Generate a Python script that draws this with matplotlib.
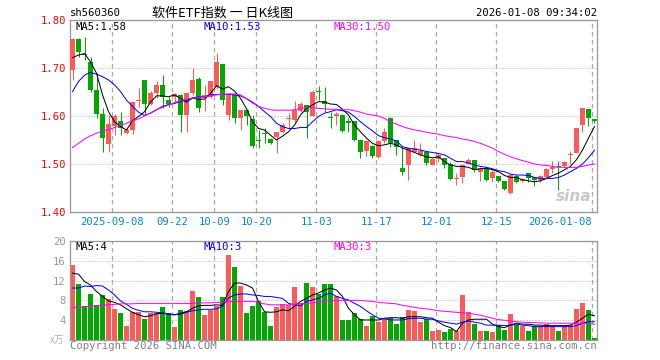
import matplotlib
matplotlib.use("Agg")
import matplotlib.pyplot as plt
import numpy as np

# ---------------- data ----------------
dates = ["2025-09-08", "09-22", "10-09", "10-20", "11-03", "11-17", "12-01", "12-15", "2026-01-08"]
date_idx = [7, 17, 24, 31, 41, 51, 61, 71, 87]

opens = [1.696, 1.760, 1.730, 1.713, 1.654, 1.604, 1.542, 1.579, 1.590, 1.565,
         1.571, 1.631, 1.675, 1.626, 1.647, 1.665, 1.633, 1.640, 1.644, 1.602,
         1.647, 1.677, 1.637, 1.640, 1.661, 1.708, 1.602, 1.644, 1.595, 1.613,
         1.594, 1.548, 1.565, 1.552, 1.557, 1.566, 1.593, 1.592, 1.610, 1.622,
         1.600, 1.653, 1.631, 1.597, 1.601, 1.602, 1.590, 1.590, 1.550, 1.527,
         1.538, 1.515, 1.547, 1.595, 1.550, 1.492, 1.497, 1.526, 1.519, 1.524,
         1.498, 1.510, 1.512, 1.501, 1.4695, 1.473, 1.501, 1.508, 1.484, 1.492,
         1.470, 1.476, 1.465, 1.439, 1.474, 1.4646, 1.481, 1.4736, 1.466, 1.4736,
         1.4896, 1.4951, 1.4958, 1.518, 1.522, 1.581, 1.614, 1.593]
highs = [1.762, 1.762, 1.765, 1.722, 1.689, 1.616, 1.602, 1.604, 1.608, 1.574,
         1.631, 1.658, 1.675, 1.652, 1.672, 1.685, 1.640, 1.648, 1.645, 1.647,
         1.699, 1.682, 1.665, 1.673, 1.731, 1.708, 1.644, 1.647, 1.613, 1.614,
         1.602, 1.571, 1.574, 1.555, 1.567, 1.585, 1.606, 1.631, 1.629, 1.623,
         1.654, 1.663, 1.661, 1.608, 1.608, 1.604, 1.595, 1.590, 1.550, 1.550,
         1.540, 1.550, 1.574, 1.597, 1.550, 1.536, 1.534, 1.550, 1.543, 1.524,
         1.513, 1.522, 1.513, 1.505, 1.481, 1.499, 1.513, 1.508, 1.494, 1.4965,
         1.4875, 1.476, 1.465, 1.480, 1.477, 1.4715, 1.482, 1.4736, 1.477, 1.4924,
         1.507, 1.507, 1.5063, 1.527, 1.576, 1.617, 1.614, 1.593]
lows = [1.675, 1.722, 1.717, 1.649, 1.595, 1.526, 1.526, 1.560, 1.560, 1.562,
        1.562, 1.619, 1.602, 1.622, 1.638, 1.616, 1.619, 1.630, 1.566, 1.566,
        1.644, 1.609, 1.610, 1.637, 1.656, 1.623, 1.592, 1.585, 1.571, 1.581,
        1.534, 1.534, 1.543, 1.541, 1.522, 1.564, 1.574, 1.588, 1.609, 1.555,
        1.599, 1.633, 1.609, 1.576, 1.581, 1.566, 1.566, 1.547, 1.512, 1.517,
        1.513, 1.513, 1.543, 1.536, 1.519, 1.477, 1.467, 1.526, 1.517, 1.498,
        1.497, 1.505, 1.492, 1.467, 1.456, 1.460, 1.499, 1.484, 1.465, 1.465,
        1.462, 1.463, 1.446, 1.437, 1.460, 1.463, 1.463, 1.455, 1.463, 1.470,
        1.4806, 1.4458, 1.4944, 1.501, 1.522, 1.566, 1.580, 1.585]
closes = [1.760, 1.734, 1.727, 1.654, 1.604, 1.555, 1.584, 1.599, 1.574, 1.571,
          1.629, 1.633, 1.626, 1.647, 1.665, 1.640, 1.624, 1.645, 1.602, 1.647,
          1.675, 1.617, 1.644, 1.672, 1.713, 1.633, 1.644, 1.595, 1.613, 1.599,
          1.538, 1.547, 1.563, 1.544, 1.566, 1.581, 1.594, 1.613, 1.626, 1.609,
          1.651, 1.651, 1.624, 1.5965, 1.605, 1.569, 1.585, 1.550, 1.526, 1.548,
          1.517, 1.547, 1.567, 1.543, 1.536, 1.484, 1.533, 1.533, 1.527, 1.503,
          1.510, 1.519, 1.498, 1.469, 1.4705, 1.498, 1.508, 1.4875, 1.491, 1.467,
          1.484, 1.465, 1.447, 1.477, 1.462, 1.469, 1.470, 1.4667, 1.475, 1.4896,
          1.4944, 1.4944, 1.5049, 1.519, 1.574, 1.616, 1.595, 1.590]

ma5 = [1.7215, 1.727, 1.730, 1.713, 1.689, 1.644, 1.609, 1.588, 1.578, 1.571,
       1.590, 1.599, 1.609, 1.629, 1.642, 1.642, 1.640, 1.644, 1.637, 1.629,
       1.637, 1.635, 1.635, 1.647, 1.663, 1.656, 1.661, 1.652, 1.637, 1.615,
       1.588, 1.574, 1.571, 1.560, 1.550, 1.558, 1.567, 1.581, 1.602, 1.616,
       1.623, 1.630, 1.629, 1.625, 1.624, 1.614, 1.602, 1.581, 1.567, 1.554,
       1.543, 1.538, 1.540, 1.543, 1.540, 1.533, 1.529, 1.524, 1.519, 1.515,
       1.513, 1.515, 1.505, 1.498, 1.495, 1.495, 1.493, 1.488, 1.490, 1.491,
       1.488, 1.484, 1.476, 1.472, 1.472, 1.467, 1.465, 1.463, 1.465, 1.470,
       1.476, 1.481, 1.488, 1.495, 1.509, 1.529, 1.554, 1.578]
ma10 = [1.651, 1.672, 1.685, 1.691, 1.687, 1.682, 1.675, 1.665, 1.651, 1.633,
        1.620, 1.608, 1.601, 1.606, 1.613, 1.620, 1.624, 1.626, 1.630, 1.633,
        1.638, 1.640, 1.640, 1.644, 1.645, 1.645, 1.645, 1.644, 1.642, 1.636,
        1.629, 1.620, 1.609, 1.599, 1.585, 1.578, 1.574, 1.574, 1.576, 1.576,
        1.588, 1.599, 1.606, 1.609, 1.613, 1.611, 1.608, 1.599, 1.588, 1.578,
        1.569, 1.559, 1.555, 1.552, 1.548, 1.536, 1.533, 1.531, 1.529, 1.526,
        1.524, 1.522, 1.519, 1.512, 1.505, 1.505, 1.502, 1.498, 1.495, 1.493,
        1.490, 1.486, 1.484, 1.479, 1.477, 1.477, 1.476, 1.472, 1.470, 1.470,
        1.470, 1.472, 1.477, 1.484, 1.491, 1.500, 1.513, 1.529]
ma30 = [1.534, 1.543, 1.552, 1.559, 1.564, 1.569, 1.572, 1.576, 1.580, 1.585,
        1.590, 1.594, 1.600, 1.606, 1.613, 1.618, 1.623, 1.628, 1.632, 1.635,
        1.637, 1.639, 1.640, 1.642, 1.644, 1.645, 1.646, 1.646, 1.644, 1.636,
        1.627, 1.620, 1.616, 1.613, 1.612, 1.612, 1.612, 1.613, 1.616, 1.617,
        1.617, 1.616, 1.615, 1.614, 1.614, 1.613, 1.613, 1.611, 1.608, 1.604,
        1.602, 1.600, 1.595, 1.588, 1.583, 1.578, 1.574, 1.571, 1.569, 1.566,
        1.564, 1.562, 1.559, 1.557, 1.555, 1.552, 1.550, 1.547, 1.543, 1.538,
        1.533, 1.526, 1.520, 1.515, 1.511, 1.507, 1.504, 1.500, 1.498, 1.497,
        1.495, 1.493, 1.493, 1.493, 1.493, 1.495, 1.498, 1.500]

volumes = [15.2, 11.35, 6.8, 9.3, 7.0, 9.1, 8.3, 6.3, 5.5, 2.8,
           5.6, 5.6, 4.3, 5.5, 5.5, 6.7, 5.5, 2.6, 6.0, 5.9,
           9.9, 8.6, 5.1, 6.1, 6.9, 8.6, 17.2, 14.8, 10.9, 5.5,
           6.9, 7.9, 5.7, 2.9, 6.6, 7.2, 7.0, 10.7, 7.4, 11.5,
           10.7, 9.3, 11.35, 11.35, 8.8, 4.05, 4.05, 5.5, 4.3, 2.84,
           4.9, 3.6, 4.5, 4.5, 3.2, 4.7, 6.1, 5.9, 3.6, 4.3,
           1.8, 1.96, 1.6, 2.2, 1.8, 9.1, 5.6, 3.2, 1.8, 1.8,
           1.6, 3.0, 2.0, 5.3, 3.0, 2.8, 1.8, 2.8, 2.8, 3.2,
           2.8, 1.8, 2.8, 3.0, 6.3, 7.5, 6.1, 0.4]
vma5 = [13.5, 13.3, 11.8, 11.1, 9.8, 8.8, 7.9, 7.6, 7.1, 6.3,
        5.6, 5.1, 4.7, 4.9, 5.3, 5.4, 5.2, 5.1, 5.4, 5.7,
        6.4, 6.9, 7.0, 7.0, 7.1, 7.0, 9.8, 11.5, 11.5, 11.1,
        10.5, 7.8, 5.7, 5.6, 5.7, 6.1, 5.9, 6.8, 7.8, 8.4,
        9.1, 9.5, 10.1, 10.5, 10.1, 8.8, 6.4, 5.1, 4.05, 4.05,
        4.05, 4.05, 4.4, 4.5, 4.5, 4.4, 4.7, 4.7, 4.7, 4.5,
        4.4, 3.6, 2.9, 2.5, 1.7, 3.4, 4.05, 4.2, 4.2, 4.2,
        3.2, 2.7, 2.5, 3.0, 3.4, 3.2, 3.2, 3.0, 3.0, 2.9,
        2.9, 2.9, 2.9, 3.0, 3.6, 4.4, 5.2, 4.9]
vma10 = [10.5, 10.5, 10.9, 10.8, 11.0, 10.9, 10.1, 9.1, 7.9, 7.2,
         6.4, 6.0, 5.7, 5.7, 5.6, 5.5, 5.3, 5.1, 5.2, 5.6,
         5.9, 6.1, 6.2, 6.2, 6.3, 6.8, 8.5, 9.1, 9.3, 9.3,
         9.1, 9.0, 8.8, 8.8, 8.6, 8.4, 7.4, 7.1, 6.9, 7.8,
         8.1, 8.4, 9.1, 9.5, 8.8, 8.4, 8.1, 7.4, 6.8, 5.9,
         5.1, 4.4, 4.3, 4.05, 4.05, 4.05, 4.3, 4.4, 4.4, 4.2,
         4.2, 3.85, 3.6, 3.4, 3.2, 3.6, 3.85, 3.6, 3.4, 3.0,
         3.0, 3.0, 2.9, 3.0, 3.2, 3.0, 2.9, 2.7, 2.7, 2.7,
         2.7, 2.7, 2.7, 2.7, 2.9, 3.4, 3.7, 3.7]
vma30 = [6.5, 6.6, 6.7, 6.8, 6.9, 7.0, 7.1, 7.2, 7.3, 7.3,
         7.3, 7.4, 7.4, 7.4, 7.4, 7.4, 7.4, 7.4, 7.4, 7.4,
         7.4, 7.5, 7.5, 7.5, 7.6, 7.6, 7.8, 7.8, 7.8, 7.8,
         7.8, 7.6, 7.3, 7.1, 7.1, 7.1, 7.1, 7.2, 7.3, 7.4,
         7.5, 7.6, 7.8, 8.0, 8.0, 8.0, 8.0, 8.0, 8.0, 7.9,
         7.8, 7.6, 7.5, 7.4, 7.3, 7.0, 6.8, 6.6, 6.4, 6.3,
         6.1, 5.9, 5.8, 5.7, 5.6, 5.5, 5.4, 5.2, 5.0, 4.7,
         4.4, 4.1, 4.0, 3.85, 3.7, 3.6, 3.55, 3.5, 3.45, 3.4,
         3.4, 3.4, 3.4, 3.4, 3.4, 3.4, 3.3, 3.2]

price_ticks = [1.40, 1.50, 1.60, 1.70, 1.80]
vol_ticks = [4, 8, 12, 16, 20]

# ---------------- style ----------------
W, H = 660, 360
RED = "#ff5a5a"
GREEN = "#00a800"
GRID = "#aaaaaa"
FRAME = "#999999"
MONO = "DejaVu Sans Mono"
plt.rcParams["lines.scale_dashes"] = False
PX = 0.72  # 1 px in points

fig = plt.figure(figsize=(W / 100, H / 100), dpi=100)
fig.patch.set_facecolor("white")


def axes_px(left, top, right, bottom):
    return fig.add_axes([left / W, 1 - bottom / H, (right - left) / W, (bottom - top) / H])


def ftext(x, y, s, **kw):
    fig.text(x / W, 1 - y / H, s, **kw)


n = len(closes)
xs = np.arange(n)
xlim = (-0.42, n - 1 + 0.42)
grid_x = [i - 0.37 for i in date_idx]
body_w = 0.83

# ---------------- main price panel ----------------
ax = axes_px(70, 20, 597, 212)
ax.set_xlim(*xlim)
ax.set_ylim(1.40, 1.80)
for s in ax.spines.values():
    s.set_color(FRAME)
    s.set_linewidth(1.3 * PX)
for y in [1.50, 1.60, 1.70]:
    ax.axhline(y, color=GRID, lw=PX, linestyle=(0, (1.0 * PX, 2.0 * PX)), zorder=0)
for gx in grid_x:
    ax.axvline(gx, color=GRID, lw=1.3 * PX, linestyle=(0, (4.5 * PX, 3.5 * PX)), zorder=0)

o = np.array(opens); c = np.array(closes); h = np.array(highs); l = np.array(lows)
up = c >= o
cols = [RED if u else GREEN for u in up]
ax.vlines(xs, l, h, colors=cols, lw=1.0 * PX, zorder=2)
body_bottom = np.minimum(o, c)
body_h = np.maximum(np.abs(c - o), 0.0021)
ax.bar(xs, body_h, bottom=body_bottom, width=body_w, color=cols, linewidth=0, zorder=3)

ax.plot(xs, ma5, color="black", lw=1.0 * PX, zorder=4)
ax.plot(xs, ma10, color="#0000ff", lw=1.0 * PX, zorder=4)
ax.plot(xs, ma30, color="#ff00ff", lw=1.0 * PX, zorder=4)

ax.set_yticks(price_ticks)
ax.set_yticklabels([f"{t:.2f}" for t in price_ticks])
ax.tick_params(axis="y", length=0, pad=3.0, colors="#ff0000", labelsize=7.6)
for lab in ax.get_yticklabels():
    lab.set_fontfamily(MONO)
# date labels sit on the gridlines
ax.set_xticks(grid_x)
ax.set_xticklabels(dates)
ax.tick_params(axis="x", length=0, pad=3.5, colors="#0a84d0", labelsize=7.6)
for k, lab in enumerate(ax.get_xticklabels()):
    lab.set_fontfamily(MONO)
    if k == len(dates) - 1:
        lab.set_horizontalalignment("right")

# sina watermark
ax.text(0.955, 0.08, "sina", transform=ax.transAxes, fontsize=11, fontstyle="italic",
        fontweight="bold", color="#c8c8c8", ha="center", va="center", zorder=1)

# ---------------- volume panel ----------------
av = axes_px(70, 241, 597, 340)
av.set_xlim(*xlim)
av.set_ylim(0, 20)
for s in av.spines.values():
    s.set_color(FRAME)
    s.set_linewidth(1.3 * PX)
for y in [4, 8, 12, 16]:
    av.axhline(y, color=GRID, lw=PX, linestyle=(0, (1.0 * PX, 2.0 * PX)), zorder=0)
for gx in grid_x:
    av.axvline(gx, color=GRID, lw=1.3 * PX, linestyle=(0, (4.5 * PX, 3.5 * PX)), zorder=0)
av.bar(xs, volumes, width=body_w, color=cols, linewidth=0, zorder=2)
av.plot(xs, vma5, color="black", lw=1.0 * PX, zorder=4)
av.plot(xs, vma10, color="#0000ff", lw=1.0 * PX, zorder=4)
av.plot(xs, vma30, color="#ff00ff", lw=1.0 * PX, zorder=4)
av.set_yticks(vol_ticks)
av.set_yticklabels([str(t) for t in vol_ticks])
av.tick_params(axis="y", length=0, pad=3.0, colors="#999999", labelsize=7.6)
for lab in av.get_yticklabels():
    lab.set_fontfamily(MONO)
av.set_xticks([])

# ---------------- texts ----------------
ftext(70, 13, "sh560360", fontsize=7.6, family=MONO, color="black", ha="left", va="center")
ftext(222, 13, "软件ETF指数 一 日K线图", fontsize=9.4,
      family=["Noto Sans CJK SC", "DejaVu Sans"], color="black", ha="center", va="center")
ftext(597, 13, "2026-01-08 09:34:02", fontsize=7.6, family=MONO, color="black", ha="right", va="center")

ftext(75, 27, "MA5:1.58", fontsize=7.6, family=MONO, color="black", ha="left", va="center")
ftext(204, 27, "MA10:1.53", fontsize=7.6, family=MONO, color="#0000ff", ha="left", va="center")
ftext(334, 27, "MA30:1.50", fontsize=7.6, family=MONO, color="#ff00ff", ha="left", va="center")

ftext(75, 247, "MA5:4", fontsize=7.6, family=MONO, color="black", ha="left", va="center")
ftext(204, 247, "MA10:3", fontsize=7.6, family=MONO, color="#0000ff", ha="left", va="center")
ftext(334, 247, "MA30:3", fontsize=7.6, family=MONO, color="#ff00ff", ha="left", va="center")

ftext(64, 340, "x万", fontsize=7.0, family=["Noto Sans CJK SC", "DejaVu Sans"], color="#b0b0b0",
      ha="right", va="center")
ftext(70, 346, "Copyright 2026 SINA.COM", fontsize=7.6, family=MONO, color="#808080", ha="left", va="center")
ftext(597, 346, "http://finance.sina.com.cn", fontsize=7.6, family=MONO, color="#808080", ha="right", va="center")

fig.savefig("out.png", dpi=100, facecolor="white")
